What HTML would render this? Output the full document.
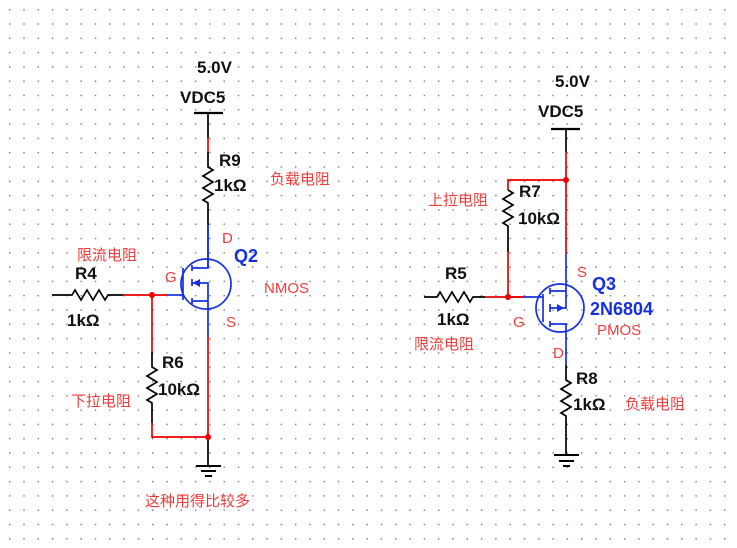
<!DOCTYPE html>
<html><head><meta charset="utf-8"><style>
html,body{margin:0;padding:0;background:#fff}
svg{display:block}
.b{font-family:"Liberation Sans",sans-serif;font-weight:bold;font-size:17px;fill:#111}
.r{font-family:"Liberation Sans","Noto Sans CJK SC",sans-serif;font-size:15px;fill:#f03c3c}
.q{font-family:"Liberation Sans",sans-serif;font-weight:bold;font-size:18px;fill:#1530e0}
</style></head><body>
<svg width="737" height="548" viewBox="0 0 737 548" xmlns="http://www.w3.org/2000/svg">
<defs><pattern id="g" x="9" y="9" width="14.3" height="14.3" patternUnits="userSpaceOnUse"><rect x="0" y="0" width="1.4" height="1.4" fill="#777"/></pattern></defs>
<rect width="737" height="548" fill="url(#g)"/>
<g fill="none" stroke-width="1.7">
<!-- LEFT -->
<line x1="194" y1="113" x2="223" y2="113" stroke="#000" stroke-width="2.2"/>
<path d="M208 113V138" stroke="#000"/>
<path d="M208 138V152" stroke="#e00"/>
<path d="M208 152V167 l5 3 -10 6 10 6 -10 6 10 6 -10 6 5 3V225" stroke="#000"/>
<path d="M208 225V267" stroke="#1530e0"/>
<path d="M52 295H72 l3 -5 6 10 6 -10 6 10 6 -10 6 10 3 -5H123" stroke="#000"/>
<path d="M123 295H167" stroke="#e00"/>
<g stroke="#1530e0">
<path d="M167 295H183"/>
<circle cx="206" cy="284" r="25"/>
<path d="M183 268V300"/>
<path d="M192 265V271M192 279V286M192 298V304"/>
<path d="M192 268H208V225M192 283H208V303M192 301H208V337"/>
</g>
<path d="M193 283l7-4v8z" fill="#1530e0" stroke="none"/>
<path d="M208 337V437H152V423" stroke="#e00"/>
<path d="M152 295V352" stroke="#e00"/>
<path d="M152 352V367 l5 3 -10 6 10 6 -10 6 10 6 -10 6 5 3V423" stroke="#000"/>
<path d="M208 437V466" stroke="#000"/>
<path d="M196 466H221M201 471H216M205 476H212" stroke="#000" stroke-width="2"/>
<!-- RIGHT -->
<line x1="551" y1="129" x2="580" y2="129" stroke="#000" stroke-width="2.2"/>
<path d="M566 129V152" stroke="#000"/>
<path d="M566 152V253M566 180H508V190" stroke="#e00"/>
<path d="M508 190l5 3 -10 6 10 6 -10 6 10 6 -10 6 5 3V252" stroke="#000"/>
<path d="M508 252V297H524" stroke="#e00"/>
<path d="M424 297H437 l3 -5 6 10 6 -10 6 10 6 -10 6 10 3 -5H485" stroke="#000"/>
<path d="M485 297H524" stroke="#e00"/>
<g stroke="#1530e0">
<path d="M524 297H543"/>
<circle cx="560" cy="308" r="24"/>
<path d="M543 294V322"/>
<path d="M550 288V294M550 304V312M550 321V327"/>
<path d="M566 253V291H550M550 308H566V291M550 324H566V365"/>
</g>
<path d="M564 308l-7-4v8z" fill="#1530e0" stroke="none"/>
<path d="M566 365V380 l5 3 -10 6 10 6 -10 6 10 6 -10 6 5 3V455" stroke="#000"/>
<path d="M554 455H579M559 461H574M563 466H570" stroke="#000" stroke-width="2"/>
</g>
<circle cx="152" cy="295" r="3" fill="#e00"/>
<circle cx="208" cy="437" r="3" fill="#e00"/>
<circle cx="566" cy="180" r="3" fill="#e00"/>
<circle cx="508" cy="297" r="3" fill="#e00"/>
<!-- labels left -->
<text class="b" x="197" y="73">5.0V</text>
<text class="b" x="180" y="103">VDC5</text>
<text class="b" x="219" y="166">R9</text>
<text class="b" x="214" y="191">1kΩ</text>
<text class="r" x="270" y="184">负载电阻</text>
<text class="r" x="222" y="243">D</text>
<text class="q" x="234" y="262">Q2</text>
<text class="r" x="264" y="293">NMOS</text>
<text class="r" x="165" y="282">G</text>
<text class="r" x="226" y="327">S</text>
<text class="r" x="77" y="260">限流电阻</text>
<text class="b" x="75" y="279">R4</text>
<text class="b" x="67" y="326">1kΩ</text>
<text class="b" x="162" y="368">R6</text>
<text class="b" x="158" y="395">10kΩ</text>
<text class="r" x="71" y="406">下拉电阻</text>
<text class="r" x="145" y="506">这种用得比较多</text>
<!-- labels right -->
<text class="b" x="555" y="87">5.0V</text>
<text class="b" x="538" y="117">VDC5</text>
<text class="b" x="519" y="197">R7</text>
<text class="b" x="518" y="224">10kΩ</text>
<text class="r" x="428" y="205">上拉电阻</text>
<text class="b" x="445" y="279">R5</text>
<text class="b" x="437" y="325">1kΩ</text>
<text class="r" x="414" y="349">限流电阻</text>
<text class="r" x="513" y="327">G</text>
<text class="r" x="577" y="277">S</text>
<text class="q" x="592" y="290">Q3</text>
<text class="q" x="590" y="315">2N6804</text>
<text class="r" x="597" y="335">PMOS</text>
<text class="r" x="553" y="358">D</text>
<text class="b" x="576" y="384">R8</text>
<text class="b" x="573" y="410">1kΩ</text>
<text class="r" x="625" y="409">负载电阻</text>
</svg>
</body></html>
